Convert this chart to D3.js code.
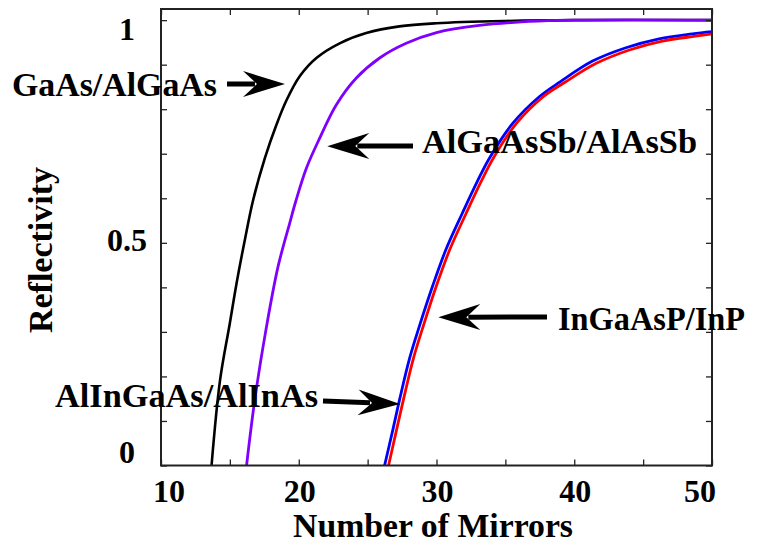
<!DOCTYPE html>
<html>
<head>
<meta charset="utf-8">
<script src="https://cdn.jsdelivr.net/npm/d3@7"></script>
<style>
  html, body { margin: 0; padding: 0; background: #fff; }
  svg { display: block; }
  text { font-family: "Liberation Serif", "Times New Roman", serif; font-weight: bold; fill: #000; }
</style>
</head>
<body>
<svg id="chart" width="760" height="545"></svg>
<script>
// Reflectivity of Bragg mirror stacks versus number of mirror pairs
const xTicks = [10, 20, 30, 40, 50];
const xMinorTicks = [10, 15, 20, 25, 30, 35, 40, 45, 50];
const yTickLabels = [0, 0.5, 1];
const yMinorTicks = [0, 0.1, 0.2, 0.3, 0.4, 0.5, 0.6, 0.7, 0.8, 0.9, 1];

const seriesNames = ["AlInGaAs/AlInAs", "InGaAsP/InP", "GaAs/AlGaAs", "AlGaAsSb/AlAsSb"];

const gaasMirrors = [13.67, 14.28, 15.0, 15.49, 16.09, 16.69, 17.54, 18.38, 19.11, 20.07, 21.28, 22.97, 24.9, 27.3, 30.0, 35.0, 40.0, 50.0];
const gaasR       = [0, 0.19, 0.32, 0.41, 0.507, 0.596, 0.69, 0.765, 0.82, 0.874, 0.915, 0.948, 0.971, 0.986, 0.993, 0.998, 1.0, 1.0];

const sbMirrors = [16.21, 16.81, 17.66, 18.5, 19.35, 19.8, 20.56, 21.52, 22.73, 24.18, 25.87, 27.8, 30.0, 33.1, 36.7, 40.0, 50.0];
const sbR       = [0, 0.148, 0.312, 0.447, 0.545, 0.595, 0.668, 0.735, 0.81, 0.87, 0.915, 0.948, 0.972, 0.988, 0.997, 1.0, 1.0];

const alinMirrors = [26.23, 26.83, 27.32, 28.04, 28.77, 29.73, 30.7, 31.9, 33.0, 33.84, 35.53, 37.46, 39.0, 41.33, 43.75, 46.16, 48.57, 50.0];
const alinR       = [0, 0.08, 0.148, 0.24, 0.314, 0.404, 0.486, 0.568, 0.64, 0.69, 0.768, 0.828, 0.862, 0.908, 0.938, 0.958, 0.969, 0.974];

const inpMirrors = [26.52, 27.1, 27.6, 28.32, 29.05, 30.0, 30.98, 32.18, 33.28, 34.12, 35.8, 37.75, 39.3, 41.6, 44.0, 46.4, 48.8, 50.0];
const inpR       = [0, 0.08, 0.148, 0.24, 0.314, 0.404, 0.486, 0.568, 0.64, 0.69, 0.768, 0.828, 0.86, 0.903, 0.933, 0.953, 0.964, 0.969];

const svg = d3.select("#chart");
const frame = { left: 161, right: 712, top: 9, bottom: 465.5 };

const x = d3.scaleLinear().domain([10, 50]).range([frame.left, frame.right]);
const y = d3.scaleLinear().domain([0, 1.025]).range([frame.bottom, frame.top]);

const zip = (xs, ys) => xs.map((v, i) => [v, ys[i]]);
const series = [
  { pts: zip(alinMirrors, alinR), color: "#0000ff", w: 2.8 },
  { pts: zip(inpMirrors, inpR),   color: "#ff0000", w: 2.8 },
  { pts: zip(gaasMirrors, gaasR), color: "#000000", w: 2.6 },
  { pts: zip(sbMirrors, sbR),     color: "#7f00ff", w: 2.8 }
];

const line = d3.line()
  .x(d => x(d[0]))
  .y(d => y(d[1]))
  .curve(d3.curveCatmullRom.alpha(0.5));

svg.append("g").selectAll("path")
  .data(series)
  .join("path")
  .attr("d", d => line(d.pts))
  .attr("fill", "none")
  .attr("stroke", d => d.color)
  .attr("stroke-width", d => d.w)
  .attr("stroke-linejoin", "round");

// inward ticks on all four sides
const tickLen = 6;
const bottomAxis = d3.axisBottom(x).tickValues(xMinorTicks).tickSizeInner(-tickLen).tickSizeOuter(0).tickFormat("");
const topAxis = d3.axisTop(x).tickValues(xMinorTicks).tickSizeInner(-tickLen).tickSizeOuter(0).tickFormat("");
const leftAxis = d3.axisLeft(y).tickValues(yMinorTicks).tickSizeInner(-tickLen).tickSizeOuter(0).tickFormat("");
const rightAxis = d3.axisRight(y).tickValues(yMinorTicks).tickSizeInner(-tickLen).tickSizeOuter(0).tickFormat("");

function styleAxis(g) {
  g.select(".domain").remove();
  g.selectAll(".tick line").attr("stroke", "#222").attr("stroke-width", 1.3);
}
svg.append("g").attr("transform", `translate(0,${frame.bottom})`).call(bottomAxis).call(styleAxis);
svg.append("g").attr("transform", `translate(0,${frame.top})`).call(topAxis).call(styleAxis);
svg.append("g").attr("transform", `translate(${frame.left},0)`).call(leftAxis).call(styleAxis);
svg.append("g").attr("transform", `translate(${frame.right},0)`).call(rightAxis).call(styleAxis);

svg.append("rect")
  .attr("x", frame.left).attr("y", frame.top)
  .attr("width", frame.right - frame.left)
  .attr("height", frame.bottom - frame.top)
  .attr("fill", "none").attr("stroke", "#222").attr("stroke-width", 2);

// tick labels, end labels pulled inward
svg.append("g").selectAll("text")
  .data(xTicks)
  .join("text")
  .attr("x", (d, i) => x(d) + (i === 0 ? 8 : i === xTicks.length - 1 ? -12 : 1))
  .attr("y", 502)
  .attr("text-anchor", "middle")
  .attr("font-size", 32)
  .text(d => d);

svg.append("g").selectAll("text")
  .data(yTickLabels)
  .join("text")
  .attr("x", 127)
  .attr("y", d => y(d) + (d === 0 ? -14 : d === 1 ? 9 : -3))
  .attr("dy", "0.35em")
  .attr("text-anchor", "middle")
  .attr("font-size", 32)
  .text(d => d);

// axis titles
svg.append("text")
  .attr("x", 433).attr("y", 537)
  .attr("text-anchor", "middle")
  .attr("font-size", 33)
  .attr("textLength", 280)
  .attr("lengthAdjust", "spacingAndGlyphs")
  .text("Number of Mirrors");

svg.append("text")
  .attr("transform", "translate(52,250) rotate(-90)")
  .attr("text-anchor", "middle")
  .attr("font-size", 34)
  .text("Reflectivity");

// annotations: arrow tip sits on a curve (data coords), tail and label in pixels
const notes = [
  { name: seriesNames[2], tip: [19.0, 0.8565], tail: [227, 84],  tx: 12,  ty: 96,  len: 205 },
  { name: seriesNames[3], tip: [22.07, 0.717], tail: [413, 146], tx: 422, ty: 153, len: 275 },
  { name: seriesNames[1], tip: [30.13, 0.333], tail: [547, 317], tx: 558, ty: 330, len: 187 },
  { name: seriesNames[0], tip: [27.35, 0.138], tail: [323, 401], tx: 55,  ty: 407, len: 263 }
];

function arrowHead(tipX, tipY, tailX, tailY) {
  const ang = Math.atan2(tipY - tailY, tipX - tailX);
  const len = 42, half = 13, notch = 28;
  const pts = [
    [0, 0],
    [-len, -half],
    [-notch, 0],
    [-len, half]
  ].map(([px, py]) => [
    tipX + px * Math.cos(ang) - py * Math.sin(ang),
    tipY + px * Math.sin(ang) + py * Math.cos(ang)
  ]);
  return "M" + pts.map(p => p.join(",")).join("L") + "Z";
}

const ng = svg.append("g");
notes.forEach(n => {
  const tx = x(n.tip[0]), ty = y(n.tip[1]);
  const ang = Math.atan2(ty - n.tail[1], tx - n.tail[0]);
  const ex = tx - 30 * Math.cos(ang), ey = ty - 30 * Math.sin(ang);
  ng.append("line")
    .attr("x1", n.tail[0]).attr("y1", n.tail[1])
    .attr("x2", ex).attr("y2", ey)
    .attr("stroke", "#000").attr("stroke-width", 5);
  ng.append("path").attr("d", arrowHead(tx, ty, n.tail[0], n.tail[1])).attr("fill", "#000");
  ng.append("text")
    .attr("x", n.tx).attr("y", n.ty)
    .attr("font-size", 34)
    .attr("textLength", n.len)
    .attr("lengthAdjust", "spacingAndGlyphs")
    .text(n.name);
});
</script>
</body>
</html>
